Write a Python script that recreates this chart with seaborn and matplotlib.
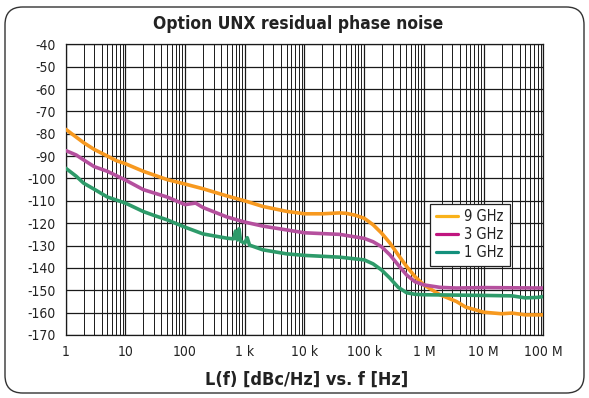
import numpy as np
import pandas as pd
import matplotlib
matplotlib.use("Agg")
import matplotlib.pyplot as plt
from matplotlib.patches import FancyBboxPatch
from matplotlib.lines import Line2D
import seaborn as sns

# ---- data ----
f_9 = [1, 1.5, 2, 3, 5, 7, 10, 20, 50, 100, 200, 500, 1e3, 2e3, 5e3, 1e4, 2e4, 3.9e4, 5e4,
       7e4, 1e5, 1.41e5, 1.95e5, 2.7e5, 3.72e5, 5.15e5, 7.1e5, 1e6, 1.86e6, 3.5e6, 5e6, 1e7,
       2e7, 3e7, 5e7, 1e8]
v_9 = [-78, -81.5, -84, -87, -90, -92, -93.4, -96.8, -100.5, -102.5, -104.6, -107.8, -110,
       -112.5, -114.7, -115.8, -115.8, -115.4, -115.6, -116.4, -117.8, -120.7, -124.4, -128.9,
       -134.2, -139.4, -143.9, -147.6, -152, -155, -157.5, -159.8, -160.5, -160.2, -161, -161]

f_3 = [1, 1.5, 2, 3, 5, 10, 20, 50, 100, 150, 200, 500, 1e3, 2e3, 5e3, 1e4, 3.9e4, 1e5,
       1.41e5, 1.95e5, 2.7e5, 3.72e5, 5.15e5, 7.1e5, 1e6, 1.86e6, 3.5e6, 1e7, 1e8]
v_3 = [-87.5, -89.5, -91.7, -94.7, -96.8, -100.7, -105, -108.3, -111.7, -111, -113, -117.2,
       -119.5, -121.3, -123, -124.3, -125, -126.8, -128.3, -130.5, -134.2, -138.7, -143.2,
       -146.2, -147.6, -148.7, -149, -148.8, -149]

f_1 = [1, 1.5, 2, 3, 5, 10, 20, 30, 50, 100, 200, 500, 650, 700, 750, 800, 850, 1e3, 1.1e3,
       1.2e3, 2e3, 5e3, 1e4, 3.9e4, 1e5, 1.41e5, 1.95e5, 2.7e5, 3.72e5, 5.15e5, 7.1e5, 1e6,
       1e7, 3e7, 5e7, 8e7, 1e8]
v_1 = [-95.4, -99, -102.1, -104.8, -108.3, -111, -114.8, -116.5, -118.5, -121.8, -124.8,
       -126.7, -127, -123.5, -127.5, -122.5, -128, -128.9, -126.5, -129.8, -131.9, -133.7,
       -134.4, -135.2, -136.4, -138.2, -140.9, -144.6, -148.7, -151.1, -151.8, -152, -152.3,
       -152.5, -153.4, -153.2, -152.8]

series = ["9 GHz", "3 GHz", "1 GHz"]
line_colors = ["#F7991F", "#B5509E", "#2E9B6A"]
legend_colors = ["#F9B21A", "#C0157F", "#13907C"]

x_ticks = [1, 10, 100, 1e3, 1e4, 1e5, 1e6, 1e7, 1e8]
x_labels = ["1", "10", "100", "1 k", "10 k", "100 k", "1 M", "10 M", "100 M"]
y_ticks = list(range(-40, -171, -10))

title = "Option UNX residual phase noise"
xlabel = "L(f) [dBc/Hz] vs. f [Hz]"

df = pd.concat([
    pd.DataFrame({"f": f_9, "v": v_9, "s": series[0]}),
    pd.DataFrame({"f": f_3, "v": v_3, "s": series[1]}),
    pd.DataFrame({"f": f_1, "v": v_1, "s": series[2]}),
])

sns.set_style("white")
plt.rcParams["font.family"] = ["DejaVu Sans"]
plt.rcParams["font.stretch"] = "condensed"

fig = plt.figure(figsize=(5.89, 3.98), dpi=100)
ax = fig.add_axes([0.1115, 0.1583, 0.8109, 0.7304])

sns.lineplot(data=df, x="f", y="v", hue="s", hue_order=series,
             palette=line_colors, linewidth=2.6, ax=ax, legend=False, zorder=3)

ax.set_xscale("log")
ax.set_xlim(1, 1e8)
ax.set_ylim(-170, -40)
ax.set_xticks(x_ticks)
ax.set_xticklabels(x_labels)
ax.set_yticks(y_ticks)
ax.set_yticklabels([str(t) for t in y_ticks])
ax.grid(True, which="major", color="#1a1a1a", linewidth=0.9)
ax.grid(True, which="minor", axis="x", color="#1a1a1a", linewidth=0.7)
ax.tick_params(axis="both", which="major", direction="out", length=4, width=0.9,
               color="#1a1a1a", labelsize=10, labelcolor="#222222", pad=3)
ax.tick_params(axis="x", which="minor", length=0)
for sp in ax.spines.values():
    sp.set_color("#1a1a1a")
    sp.set_linewidth(0.9)
ax.set_xlabel("")
ax.set_ylabel("")

handles = [Line2D([0], [0], color=c, lw=2.3) for c in legend_colors]
leg = ax.legend(handles, series, loc="upper left", bbox_to_anchor=(0.763, 0.452),
                frameon=True, fancybox=False, fontsize=10.5, handlelength=1.5,
                handletextpad=0.45, borderpad=0.4, labelspacing=0.2,
                borderaxespad=0)
leg.get_frame().set_edgecolor("#222222")
leg.get_frame().set_linewidth(0.9)
leg.get_frame().set_facecolor("white")
leg.get_frame().set_alpha(1)
leg.set_zorder(5)
for t in leg.get_texts():
    t.set_color("#222222")

fig.text(0.506, 0.94, title, ha="center", va="center", fontsize=12.5, fontweight="bold",
         color="#222222")
fig.text(0.521, 0.045, xlabel, ha="center", va="center", fontsize=13, fontweight="bold",
         color="#222222")

box = FancyBboxPatch((5 / 589, 5 / 398), 579 / 589, 386 / 398,
                     boxstyle="round,pad=0,rounding_size=0.03",
                     transform=fig.transFigure, facecolor="none",
                     edgecolor="#333333", linewidth=1.0, mutation_aspect=589 / 398)
fig.patches.append(box)

fig.savefig("out.png", dpi=100)
